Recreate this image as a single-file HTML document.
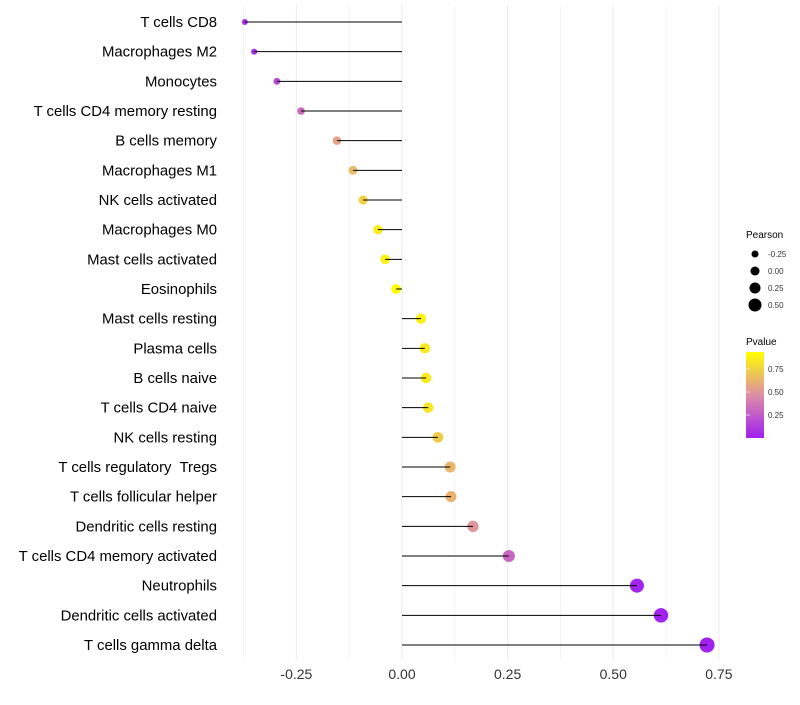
<!DOCTYPE html>
<html><head><meta charset="utf-8"><style>
body{margin:0;background:#fff;font-family:"Liberation Sans",sans-serif;}
svg text{font-family:"Liberation Sans",sans-serif;white-space:pre;}
</style></head><body>
<svg id="chart" width="800" height="700">
<defs><linearGradient id="pg" x1="0" y1="1" x2="0" y2="0">
<stop offset="0" stop-color="#a020f0"/><stop offset="0.5" stop-color="#dd8ea6"/><stop offset="1" stop-color="#ffff00"/></linearGradient></defs>
<g id="grid"></g>
<g id="pts"></g>
<g id="marks"></g>
<g id="ylab"></g>
<g id="xlab"></g>
<g id="sleg">
<text x="746" y="238" font-size="10">Pearson</text>
</g>
<g id="cleg">
<text x="746" y="345" font-size="10">Pvalue</text>
<rect x="746" y="352" width="18" height="86" fill="url(#pg)"/>
</g>
</svg>
<script>
const categories=["T cells CD8","Macrophages M2","Monocytes","T cells CD4 memory resting","B cells memory","Macrophages M1","NK cells activated","Macrophages M0","Mast cells activated","Eosinophils","Mast cells resting","Plasma cells","B cells naive","T cells CD4 naive","NK cells resting","T cells regulatory  Tregs","T cells follicular helper","Dendritic cells resting","T cells CD4 memory activated","Neutrophils","Dendritic cells activated","T cells gamma delta"];
const pearson=[-0.372,-0.350,-0.296,-0.239,-0.154,-0.116,-0.092,-0.057,-0.040,-0.014,0.045,0.054,0.057,0.062,0.085,0.114,0.116,0.168,0.253,0.556,0.613,0.722];
const pvalue=[0.05,0.08,0.18,0.32,0.55,0.65,0.75,0.85,0.88,0.93,0.88,0.85,0.85,0.83,0.72,0.63,0.62,0.5,0.3,0.02,0.01,0.005];
const xTicks=[-0.25,0,0.25,0.5,0.75];
const xTickLabels=["-0.25","0.00","0.25","0.50","0.75"];
const sizeLegend=[-0.25,0,0.25,0.5];
const colorTicks=[0.25,0.5,0.75];
const NS="http://www.w3.org/2000/svg";
const x=v=>402+v*422.5;
const y=i=>22+i*29.667;
const r=v=>Math.sqrt(Math.max(3,25+44*v));
const cy=p=>438-p/0.25*23;
function col(p){const t=Math.max(0,Math.min(1,p/0.935));
 const a=[160,32,240],m=[221,142,166],b=[255,255,0];let c;
 if(t<0.5){const s=t/0.5;c=a.map((v,k)=>v+(m[k]-v)*s);}else{const s=(t-0.5)/0.5;c=m.map((v,k)=>v+(b[k]-v)*s);}
 return `rgb(${c.map(Math.round).join(",")})`;}
function mk(tag,at,par){const e=document.createElementNS(NS,tag);for(const k in at)e.setAttribute(k,at[k]);document.getElementById(par).appendChild(e);return e;}
for(let v=-0.375;v<=0.751;v+=0.125){
 const l=mk("line",{x1:x(v),x2:x(v),y1:5,y2:660,stroke:Math.abs(v/0.25-Math.round(v/0.25))<1e-6?"#ebebeb":"#f3f3f3","stroke-width":1},"grid");
 
 
}
categories.forEach((c,i)=>{
 const d=mk("circle",{cx:x(pearson[i]),cy:y(i),r:r(pearson[i]),fill:col(pvalue[i])},"pts");
 
 
 const l=mk("line",{x1:x(0),x2:x(pearson[i]),y1:y(i),y2:y(i),stroke:"#000","stroke-width":1},"marks");
 
 
 const t=mk("text",{x:217,y:y(i)+5,"text-anchor":"end","font-size":14.9,fill:"#000"},"ylab");
 t.textContent=c;
 
 
});
xTicks.forEach((v,i)=>{
 const t=mk("text",{x:x(v),y:679,"text-anchor":"middle","font-size":14,fill:"#333"},"xlab");
 t.textContent=xTickLabels[i];
 
 
});
sizeLegend.forEach((v,i)=>{
 const c=mk("circle",{cx:755,cy:254+i*17,r:3.5+i*1,fill:"#000"},"sleg");
 
 
 const t=mk("text",{x:768,y:257+i*17,"font-size":8,fill:"#333"},"sleg");
 t.textContent=v.toFixed(2);
 
 
});
colorTicks.forEach(v=>{
 const l=mk("line",{x1:746,x2:750,y1:cy(v),y2:cy(v),stroke:"#fff","stroke-opacity":0.6},"cleg");
 
 
 const t=mk("text",{x:768,y:cy(v)+3,"font-size":8,fill:"#333"},"cleg");
 t.textContent=v.toFixed(2);
 
 
});
</script>
</body></html>
